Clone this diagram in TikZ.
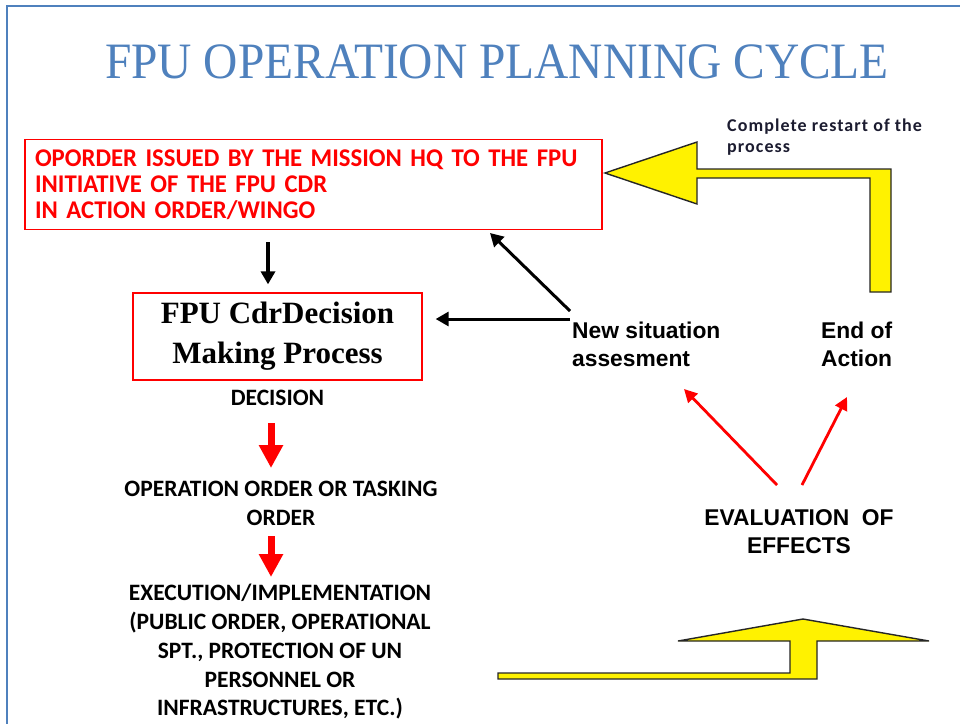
\documentclass[tikz,border=0pt]{standalone}
\usepackage{fontspec}
\setmainfont{Liberation Serif}
\newfontfamily\titlefont{Liberation Serif}[FakeStretch=0.93]
\newfontfamily\calfont{Carlito}
\newfontfamily\calcond{Carlito}[FakeStretch=0.97,WordSpace=0.6]
\newfontfamily\calnote{Carlito}[LetterSpace=6]
\newfontfamily\arfont{Liberation Sans}
\usetikzlibrary{arrows.meta}
\definecolor{titleblue}{HTML}{4F81BD}
\definecolor{framblue}{HTML}{4F81BD}
\definecolor{notecol}{HTML}{1C1C30}
\begin{document}
\begin{tikzpicture}[x=1pt,y=-1pt,
  blk/.style={line width=3pt,-{Triangle[length=13pt,width=14pt]}},
  redthin/.style={red,line width=2.8pt,-{Triangle[length=13pt,width=13pt]}},
  redbig/.style={red,line width=7pt,-{Triangle[length=23pt,width=23pt]}},
  yel/.style={fill=yellow,draw=black!85,line width=1.4pt,line join=miter},
  redbox/.style={draw=red,line width=1.3pt},
  caltext/.style={font=\calfont\bfseries\fontsize{23.5}{29}\selectfont,align=center,inner sep=0pt,text=black},
  artext/.style={font=\arfont\bfseries\fontsize{22.8}{28}\selectfont,inner sep=0pt,text=black}
]
\useasboundingbox (0,0) rectangle (960,724);
\fill[white] (0,0) rectangle (960,724);
% frame
\draw[framblue,line width=2pt] (960,6) -- (7,6) -- (7,724);
% title
\node[font=\titlefont\fontsize{51}{56}\selectfont,text=titleblue,inner sep=0pt] (title) at (497,62) {FPU OPERATION PLANNING CYCLE};
% box 1
\node[redbox,minimum width=577pt,minimum height=87pt,text width=557pt,inner sep=10pt,align=left,
  font=\calcond\bfseries\fontsize{25.5}{26}\selectfont,text=red] (box1) at (313.5,184.5)
  {OPORDER ISSUED BY THE MISSION HQ TO THE FPU\\INITIATIVE OF THE FPU CDR\\IN ACTION ORDER/WINGO};
% box 2
\node[redbox,minimum width=289pt,minimum height=87pt,align=center,inner sep=0pt,
  font=\bfseries\fontsize{31}{40}\selectfont] (box2) at (277.5,336.5)
  {FPU CdrDecision\\Making Process};
% decision chain
\node[caltext] (decision) at (277.5,398) {DECISION};
\node[caltext] (opord) at (281,503.5) {OPERATION ORDER OR TASKING\\ORDER};
\node[caltext,font=\calfont\bfseries\fontsize{23.5}{28.75}\selectfont] (exec) at (280,652)
  {EXECUTION/IMPLEMENTATION\\(PUBLIC ORDER, OPERATIONAL\\SPT., PROTECTION OF UN\\PERSONNEL OR\\INFRASTRUCTURES, ETC.)};
% right side texts
\node[artext,anchor=west,align=left] (newsit) at (572,344) {New situation\\assesment};
\node[artext,anchor=west,align=left] (endact) at (821,344) {End of\\Action};
\node[artext,align=center] (evalu) at (799,532) {EVALUATION\ \ OF\\EFFECTS};
\node[font=\calnote\bfseries\fontsize{18}{21}\selectfont,text=notecol,anchor=west,align=left,inner sep=0pt] (restart) at (727,137.5) {Complete restart of the\\process};
% coordinates for connectors
\coordinate (dn1s) at (box1.south -| 268,0);
\coordinate (dn1e) at (box2.north -| 268,0);
\coordinate (hstart) at (570,319);
\coordinate (dstart) at (570,311);
\coordinate (dtip) at (490,233);
\coordinate (r1s) at (271,423);
\coordinate (r1e) at (271,468);
\coordinate (r2s) at (271,536);
\coordinate (r2e) at (271,577);
\coordinate (e1s) at (777,485);
\coordinate (e1e) at (684,389);
\coordinate (e2s) at (802,485);
\coordinate (e2e) at (847,397);
% black arrows
\draw[blk,line width=3.6pt,shorten <=12pt,shorten >=8pt] (dn1s) -- (dn1e);
\draw[blk,shorten >=13pt] (hstart) -- (box2.east |- hstart);
\draw[blk] (dstart) -- (dtip);
% red arrows
\draw[redbig] (r1s) -- (r1e);
\draw[redbig] (r2s) -- (r2e);
\draw[redthin] (e1s) -- (e1e);
\draw[redthin] (e2s) -- (e2e);
% yellow arrows
\draw[yel] (605,173) -- (697,142) -- (697,169) -- (891,169) -- (891,292) -- (870,292) -- (870,178) -- (697,178) -- (697,204) -- cycle;
\draw[yel] (498,673) -- (790,673) -- (790,641) -- (678,641) -- (803,619) -- (929,641) -- (817,641) -- (817,679) -- (498,679) -- cycle;
\end{tikzpicture}
\end{document}
